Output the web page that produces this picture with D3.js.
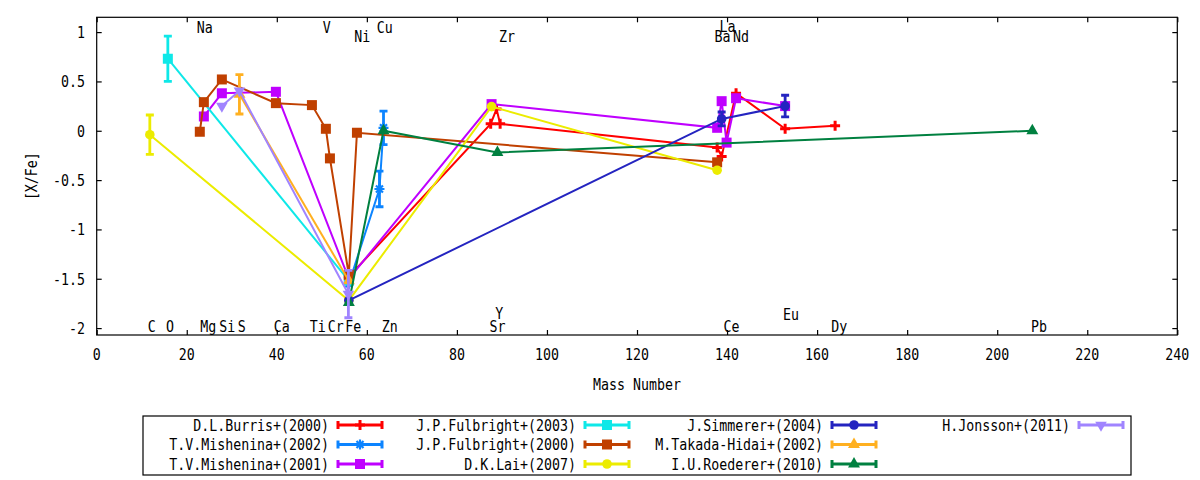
<!DOCTYPE html>
<html><head><meta charset="utf-8">
<script src="https://cdn.jsdelivr.net/npm/d3@7"></script>
<style>
html,body{margin:0;padding:0;background:#fff;}
text{font-family:"DejaVu Sans Mono","Liberation Mono",monospace;font-size:16px;fill:#000;}
</style></head>
<body><svg id="chart" width="1200" height="480"></svg>
<script>
// ---- data ----
const seriesNames = ["D.L.Burris+(2000)","T.V.Mishenina+(2002)","T.V.Mishenina+(2001)","J.P.Fulbright+(2003)","J.P.Fulbright+(2000)","D.K.Lai+(2007)","J.Simmerer+(2004)","M.Takada-Hidai+(2002)","I.U.Roederer+(2010)","H.Jonsson+(2011)"];

const burrisMass = [56.0, 87.5, 88.8, 89.6, 137.8, 138.8, 142.0, 152.9, 164.0];
const burrisXFe  = [-1.48, 0.07, 0.22, 0.07, -0.17, -0.26, 0.38, 0.02, 0.05];
const burrisErr  = [0, 0, 0, 0, 0, 0, 0, 0, 0];

const mishenina02Mass = [56.0, 62.8, 63.7];
const mishenina02XFe  = [-1.55, -0.59, 0.03];
const mishenina02Err  = [0, 0.18, 0.17];

const mishenina01Mass = [23.8, 27.8, 39.8, 56.0, 87.7, 137.8, 138.8, 139.9, 142.0, 152.9];
const mishenina01XFe  = [0.145, 0.38, 0.395, -1.50, 0.27, 0.03, 0.30, -0.12, 0.33, 0.25];
const mishenina01Err  = [0, 0, 0, 0, 0, 0, 0, 0, 0, 0];

const fulbright03Mass = [15.8, 56.0];
const fulbright03XFe  = [0.73, -1.52];
const fulbright03Err  = [0.23, 0];

const fulbright00Mass = [22.9, 23.8, 27.8, 39.8, 47.8, 50.9, 51.8, 56.0, 57.8, 137.8];
const fulbright00XFe  = [-0.01, 0.29, 0.52, 0.28, 0.26, 0.02, -0.28, -1.46, -0.02, -0.32];
const fulbright00Err  = [0, 0, 0, 0, 0, 0, 0, 0, 0, 0];

const laiMass = [11.8, 56.0, 87.7, 137.8];
const laiXFe  = [-0.04, -1.72, 0.245, -0.40];
const laiErr  = [0.20, 0, 0, 0];

const simmererMass = [56.0, 138.8, 152.9];
const simmererXFe  = [-1.72, 0.12, 0.25];
const simmererErr  = [0, 0.07, 0.11];

const takadaMass = [31.7, 56.0];
const takadaXFe  = [0.37, -1.52];
const takadaErr  = [0.20, 0];

const roedererMass = [56.0, 63.7, 89.0, 207.8];
const roedererXFe  = [-1.74, 0.0, -0.22, 0.0];
const roedererErr  = [0, 0, 0, 0];

const jonssonMass = [27.8, 31.7, 55.9];
const jonssonXFe  = [0.25, 0.405, -1.655];
const jonssonErr  = [0, 0, 0.24];

const elementNames = ["C","O","Mg","Si","S","Ca","Ti","Cr","Fe","Zn","Sr","Y","Ce","Eu","Dy","Pb","Na","V","Cu","Ni","Zr","La","Ba","Nd"];
const elementMass  = [12.2,16.3,24.8,29.0,32.2,41.1,49.1,53.1,57.0,65.1,89.0,89.4,141.0,154.2,164.9,209.3,24.0,51.1,64.0,59.0,91.1,140.1,139.0,143.1];
const elementY     = [-1.98,-1.98,-1.98,-1.98,-1.98,-1.98,-1.98,-1.98,-1.98,-1.98,-1.98,-1.85,-1.98,-1.86,-1.98,-1.98,1.05,1.05,1.05,0.96,0.96,1.06,0.96,0.96];

const xTicks = d3.range(0, 241, 20);
const yTicks = [-2, -1.5, -1, -0.5, 0, 0.5, 1];

// ---- styles ----
const colors = ["#ff0000","#0c84ff","#bf00ff","#0ee8e8","#c04000","#ecec00","#2424c0","#ffb020","#008040","#a084ff"];
const markers = ["plus","star","square","square","square","circle","circle","triangle","triangle","triangleDown"];

const seriesData = [
  [burrisMass, burrisXFe, burrisErr],
  [mishenina02Mass, mishenina02XFe, mishenina02Err],
  [mishenina01Mass, mishenina01XFe, mishenina01Err],
  [fulbright03Mass, fulbright03XFe, fulbright03Err],
  [fulbright00Mass, fulbright00XFe, fulbright00Err],
  [laiMass, laiXFe, laiErr],
  [simmererMass, simmererXFe, simmererErr],
  [takadaMass, takadaXFe, takadaErr],
  [roedererMass, roedererXFe, roedererErr],
  [jonssonMass, jonssonXFe, jonssonErr]
].map(([m, v, e]) => m.map((d, i) => ({x: d, y: v[i], e: e[i]})));

const svg = d3.select("#chart");
const L = 96.7, R = 1177.3, T = 17.3, B = 335;
const x = d3.scaleLinear().domain([0, 240]).range([L, R]);
const y = d3.scaleLinear().domain([-2.07, 1.15]).range([B, T]);

function txt(g, px, py, s, anchor, rot) {
  g.append("text")
    .attr("transform", `translate(${px},${py})` + (rot ? ` rotate(${rot})` : "") + " scale(0.83,1)")
    .attr("text-anchor", anchor)
    .attr("dominant-baseline", "central")
    .text(s);
}

function drawMarker(g, kind, px, py, col) {
  if (kind === "plus") {
    g.append("path").attr("d", `M${px-5},${py}H${px+5}M${px},${py-5}V${py+5}`)
      .attr("stroke", col).attr("stroke-width", 3).attr("fill", "none");
  } else if (kind === "star") {
    g.append("path").attr("d", `M${px-5},${py}H${px+5}M${px},${py-5}V${py+5}M${px-3.5},${py-3.5}L${px+3.5},${py+3.5}M${px-3.5},${py+3.5}L${px+3.5},${py-3.5}`)
      .attr("stroke", col).attr("stroke-width", 2.2).attr("fill", "none");
  } else {
    let sym, size, rot = 0;
    if (kind === "square") { sym = d3.symbolSquare; size = 100; }
    else if (kind === "circle") { sym = d3.symbolCircle; size = 72; }
    else if (kind === "triangle") { sym = d3.symbolTriangle; size = 62; }
    else { sym = d3.symbolTriangle; size = 58; rot = 180; }
    g.append("path").attr("d", d3.symbol().type(sym).size(size)())
      .attr("transform", `translate(${px},${py}) rotate(${rot})`)
      .attr("fill", col);
  }
}

// ---- frame & axes ----
const axisG = svg.append("g");
axisG.append("rect").attr("x", L).attr("y", T).attr("width", R - L).attr("height", B - T)
  .attr("fill", "none").attr("stroke", "#000").attr("stroke-width", 1.2);

const xAxisB = d3.axisBottom(x).tickValues(xTicks).tickSize(-5).tickFormat("");
const xAxisT = d3.axisTop(x).tickValues(xTicks).tickSize(-5).tickFormat("");
const yAxisL = d3.axisLeft(y).tickValues(yTicks).tickSize(-5).tickFormat("");
const yAxisR = d3.axisRight(y).tickValues(yTicks).tickSize(-5).tickFormat("");
[[xAxisB, `translate(0,${B})`], [xAxisT, `translate(0,${T})`], [yAxisL, `translate(${L},0)`], [yAxisR, `translate(${R},0)`]]
  .forEach(([ax, tr]) => {
    const g = axisG.append("g").attr("transform", tr).call(ax);
    g.select(".domain").remove();
    g.selectAll("line").attr("stroke", "#000").attr("stroke-width", 1.2);
  });

xTicks.forEach(t => txt(axisG, x(t), 354, String(t), "middle"));
yTicks.forEach(t => txt(axisG, 85, y(t), String(t), "end"));
txt(axisG, (L + R) / 2, 384, "Mass Number", "middle");
txt(axisG, 31, (T + B) / 2, "[X/Fe]", "middle", -90);

// ---- element labels ----
const labG = svg.append("g");
elementNames.forEach((n, i) => txt(labG, x(elementMass[i]), y(elementY[i]), n, "middle"));

// ---- series ----
const line = d3.line().x(d => x(d.x)).y(d => y(d.y));
const plotG = svg.append("g");
seriesData.forEach((pts, si) => {
  const col = colors[si];
  const g = plotG.append("g");
  g.append("path").attr("d", line(pts)).attr("fill", "none").attr("stroke", col).attr("stroke-width", 2);
  pts.filter(d => d.e > 0).forEach(d => {
    const px = x(d.x), y0 = y(d.y - d.e), y1 = y(d.y + d.e);
    g.append("path").attr("d", `M${px},${y0}V${y1}M${px-4},${y0}H${px+4}M${px-4},${y1}H${px+4}`)
      .attr("stroke", col).attr("stroke-width", 2.8).attr("fill", "none");
  });
  pts.forEach(d => drawMarker(g, markers[si], x(d.x), y(d.y), col));
});

// ---- legend ----
const legG = svg.append("g");
legG.append("rect").attr("x", 143).attr("y", 416).attr("width", 988).attr("height", 59)
  .attr("fill", "none").attr("stroke", "#000").attr("stroke-width", 1.2);
const colX = [338, 585, 832, 1079];
const rowY = [425, 444.5, 464];
seriesNames.forEach((name, i) => {
  const c = Math.floor(i / 3), r = i % 3;
  const sx = colX[c], sy = rowY[r], col = colors[i];
  txt(legG, sx - 9, sy, name, "end");
  legG.append("path").attr("d", `M${sx},${sy}H${sx+44}M${sx},${sy-4}V${sy+4}M${sx+44},${sy-4}V${sy+4}`)
    .attr("stroke", col).attr("stroke-width", 3).attr("fill", "none");
  drawMarker(legG, markers[i], sx + 22, sy, col);
});
</script></body></html>
